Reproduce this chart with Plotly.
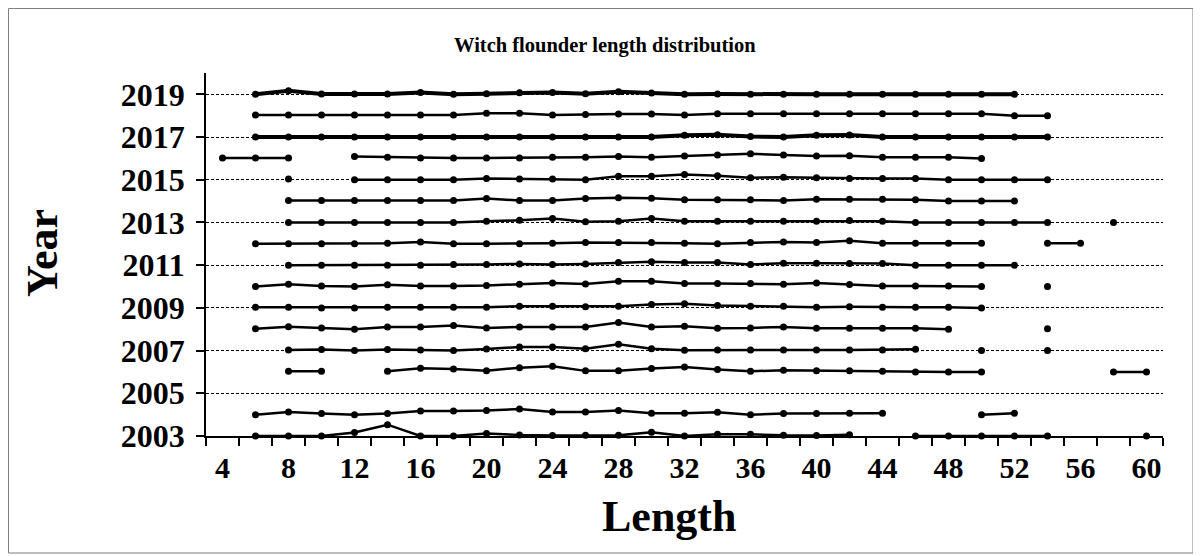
import plotly.graph_objects as go

N = None
lengths = list(range(4, 61, 2))
years = list(range(2003, 2020))
x_tick_labels = [str(v) for v in range(4, 61, 4)]
y_tick_labels = [str(v) for v in range(2003, 2020, 2)]

y2019 = [N, 0, .17, .02, .02, .02, .09, 0, .03, .07, .09, .03, .12, .06, 0, .02, 0, 0, 0, 0, 0, 0, 0, 0, 0, N, N, N, N]
y2018 = [N, .03, .03, .03, .03, .03, .03, .03, .11, .11, .03, .06, .08, .08, .03, .09, .09, .09, .09, .09, .09, .09, .09, .09, 0, 0, N, N, N]
y2017 = [N, 0, 0, 0, 0, 0, 0, 0, 0, 0, 0, 0, 0, 0, .08, .11, .03, 0, .08, .1, 0, 0, 0, 0, 0, 0, N, N, N]
y2016 = [.02, .02, .02, N, .09, .06, .02, .02, .02, .02, .05, .05, .09, .06, .11, .16, .22, .16, .11, .13, .05, .05, .05, 0, N, N, N, N, N]
y2015 = [N, N, .03, N, 0, 0, 0, 0, .06, .03, .03, 0, .16, .16, .25, .19, .09, .12, .09, .06, .06, .06, 0, 0, 0, 0, N, N, N]
y2014 = [N, N, .03, .03, .03, .03, .03, .03, .12, .03, .03, .12, .16, .14, .06, .06, .06, .03, .09, .09, .09, .06, 0, 0, 0, N, N, N, N]
y2013 = [N, N, 0, 0, 0, 0, 0, 0, .06, .1, .19, .03, .06, .19, .06, .06, .06, .06, .06, .09, .06, 0, 0, 0, 0, 0, N, 0, N]
y2012 = [N, 0, 0, 0, 0, .03, .08, 0, 0, 0, .03, .06, .06, .06, .03, 0, .06, .09, .06, .14, .03, .03, .03, .03, N, .03, .03, N, N]
y2011 = [N, N, 0, 0, 0, 0, 0, .03, .03, .06, .03, .06, .12, .16, .12, .12, .03, .09, .09, .08, .08, 0, 0, 0, 0, N, N, N, N]
y2010 = [N, 0, .11, .03, 0, .08, .03, .03, .05, .11, .16, .12, .25, .25, .14, .14, .14, .11, .16, .1, .03, .03, .03, 0, N, 0, N, N, N]
y2009 = [N, .03, .03, 0, 0, .03, .03, .03, .03, .08, .08, .05, .08, .16, .19, .11, .08, .08, .03, .05, .03, .03, .03, 0, N, N, N, N, N]
y2008 = [N, .02, .12, .06, 0, .11, .11, .17, .06, .11, .11, .11, .31, .11, .14, .05, .06, .11, .05, .05, .05, .05, 0, N, N, .02, N, N, N]
y2007 = [N, N, .03, .05, 0, .05, .03, 0, .08, .17, .17, .09, .3, .09, .02, .03, .03, .03, .03, .03, .03, .06, N, 0, N, 0, N, N, N]
y2006 = [N, N, .03, .03, N, .03, .17, .14, .06, .2, .27, .05, .06, .16, .23, .12, .03, .08, .06, .06, .03, 0, 0, 0, N, N, N, 0, 0]
y2005 = [N] * 29
y2004 = [N, 0, .12, .05, 0, .05, .17, .17, .19, .26, .12, .12, .19, .06, .06, .11, 0, .05, .05, .06, .06, N, N, 0, .06, N, N, N, N]
y2003 = [N, 0, 0, 0, .16, .53, 0, 0, .12, .05, .02, .03, .03, .17, 0, .08, .08, .03, .02, .06, N, 0, 0, 0, 0, 0, N, N, 0]

series = {
    2003: y2003, 2004: y2004, 2005: y2005, 2006: y2006, 2007: y2007, 2008: y2008,
    2009: y2009, 2010: y2010, 2011: y2011, 2012: y2012, 2013: y2013, 2014: y2014,
    2015: y2015, 2016: y2016, 2017: y2017, 2018: y2018, 2019: y2019,
}

fig = go.Figure()
for yr in years:
    vals = series[yr]
    ys = [yr + v if v is not None else None for v in vals]
    lw = 4 if yr in (2017, 2019) else 2.5
    fig.add_trace(go.Scatter(
        x=lengths, y=ys, mode="lines+markers", name=str(yr),
        line=dict(color="black", width=lw),
        marker=dict(color="black", size=7, symbol="circle"),
        connectgaps=False, cliponaxis=False, showlegend=False,
    ))

FONT = "Liberation Serif, Times New Roman, serif"
W, H = 1201, 556
OFF = 8  # page body margin
L, R, T, B = 198, 1155, 65, 428  # plot area in figure coordinates

def px(x_abs):
    return (x_abs - OFF - L) / (R - L)

def py(y_abs):
    return (B - (y_abs - OFF)) / (B - T)

fig.update_layout(
    width=W, height=H,
    margin=dict(l=L, r=W - R, t=T, b=H - B, pad=0),
    paper_bgcolor="white", plot_bgcolor="white",
    font=dict(family=FONT, color="black"),
    xaxis=dict(
        range=[3, 61], tickmode="array",
        tickvals=[int(v) for v in x_tick_labels], ticktext=x_tick_labels,
        ticks="", showgrid=False, zeroline=False,
        showline=True, linecolor="black", linewidth=1.5,
        tickfont=dict(family=FONT, size=30, color="black", weight="bold"),
        ticklabelstandoff=4,
        minor=dict(tick0=3, dtick=2, ticks="outside", ticklen=8,
                   tickwidth=1.5, tickcolor="black", showgrid=False),
    ),
    yaxis=dict(
        range=[2003, 2020], tickmode="array",
        tickvals=[int(v) for v in y_tick_labels], ticktext=y_tick_labels,
        ticks="outside", ticklen=8, tickwidth=1.5, tickcolor="black",
        showgrid=True, gridcolor="black", gridwidth=1, griddash="3px,2px",
        zeroline=False, showline=True, linecolor="black", linewidth=1.5,
        tickfont=dict(family=FONT, size=32, color="black", weight="bold"),
        ticklabelstandoff=5,
    ),
    shapes=[dict(type="rect", xref="paper", yref="paper",
                 x0=px(8.5), x1=px(1193), y0=py(553), y1=py(8.5),
                 line=dict(color="#7f7f7f", width=1), fillcolor="rgba(0,0,0,0)", layer="below")],
    annotations=[
        dict(text="<b>Witch flounder length distribution</b>", xref="paper", yref="paper",
             x=px(605), y=py(45), showarrow=False, xanchor="center", yanchor="middle",
             font=dict(family=FONT, size=20.5, color="black")),
        dict(text="<b>Year</b>", xref="paper", yref="paper", textangle=-90,
             x=px(42), y=py(253), showarrow=False, xanchor="center", yanchor="middle",
             font=dict(family=FONT, size=44, color="black")),
        dict(text="<b>Length</b>", xref="paper", yref="paper",
             x=px(669), y=py(516), showarrow=False, xanchor="center", yanchor="middle",
             font=dict(family=FONT, size=44, color="black")),
    ],
)

fig.write_html("out.html")
